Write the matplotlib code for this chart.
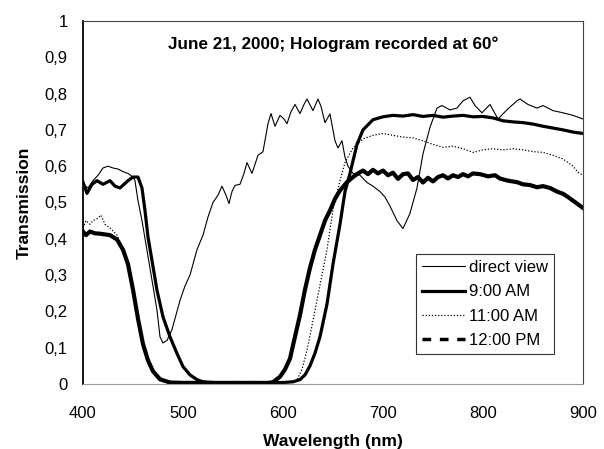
import numpy as np
import matplotlib
matplotlib.use("Agg")
import matplotlib.pyplot as plt
from matplotlib.lines import Line2D

plt.rcParams['font.family'] = ['Liberation Sans', 'DejaVu Sans']

# direct view (thin line)
wl_direct = [400, 405, 410, 415, 420, 425, 430, 435, 440, 445, 450, 452, 455, 459, 464, 469, 474, 477,
             480, 484, 489, 493, 497, 502, 507, 514, 520, 525, 530, 535, 539, 543, 546, 549, 552, 557,
             561, 564, 569, 575, 580, 585, 588, 592, 597, 601, 604, 608, 612, 617, 621, 624, 630, 635,
             638, 642, 647, 652, 655, 659, 662, 665, 670, 677, 684, 690, 697, 702, 707, 714, 720, 727,
             734, 740, 747, 754, 759, 767, 774, 780, 787, 792, 799, 807, 815, 825, 834, 837, 845, 854,
             860, 870, 880, 890, 900]
t_direct = [0.55, 0.54, 0.56, 0.575, 0.595, 0.60, 0.595, 0.592, 0.585, 0.58, 0.57, 0.56, 0.505, 0.45,
            0.368, 0.286, 0.203, 0.13, 0.113, 0.12, 0.15, 0.19, 0.23, 0.27, 0.30, 0.37, 0.41, 0.46, 0.50,
            0.52, 0.545, 0.52, 0.497, 0.53, 0.547, 0.55, 0.58, 0.61, 0.58, 0.63, 0.64, 0.717, 0.745, 0.71,
            0.74, 0.73, 0.717, 0.75, 0.77, 0.745, 0.77, 0.785, 0.753, 0.785, 0.765, 0.72, 0.744, 0.67,
            0.65, 0.67, 0.625, 0.60, 0.58, 0.575, 0.555, 0.545, 0.53, 0.515, 0.49, 0.45, 0.428, 0.47,
            0.54, 0.634, 0.707, 0.76, 0.767, 0.755, 0.76, 0.78, 0.79, 0.767, 0.747, 0.77, 0.73, 0.758,
            0.78, 0.785, 0.77, 0.76, 0.767, 0.753, 0.747, 0.74, 0.73]

# 9:00 AM (thick solid)
wl_9am = [400, 404, 409, 414, 420, 427, 432, 437, 441, 445, 450, 455, 459, 462, 465, 469, 474, 480, 487,
          494, 500, 507, 514, 520, 530, 540, 550, 560, 570, 580, 590, 600, 610, 617, 622, 627, 632, 637,
          644, 650, 657, 662, 667, 674, 680, 690, 700, 710, 720, 730, 740, 750, 760, 770, 780, 790, 800,
          810, 820, 830, 840, 850, 860, 870, 880, 890, 900]
t_9am = [0.556, 0.525, 0.55, 0.56, 0.55, 0.56, 0.545, 0.54, 0.55, 0.56, 0.57, 0.57, 0.54, 0.478, 0.405,
         0.34, 0.258, 0.185, 0.13, 0.084, 0.048, 0.025, 0.012, 0.006, 0.004, 0.003, 0.004, 0.003, 0.004,
         0.003, 0.004, 0.004, 0.006, 0.012, 0.025, 0.05, 0.085, 0.13, 0.22, 0.33, 0.44, 0.53, 0.58, 0.66,
         0.70, 0.728, 0.736, 0.74, 0.738, 0.742, 0.737, 0.74, 0.735, 0.738, 0.74, 0.736, 0.737, 0.733,
         0.725, 0.722, 0.72, 0.716, 0.71, 0.705, 0.70, 0.694, 0.69]

# 11:00 AM (dotted)
wl_11am = [400, 403, 407, 410, 414, 418, 422, 427, 434, 440, 445, 450, 455, 460, 465, 470, 477, 487, 500,
           550, 605, 610, 614, 619, 624, 629, 634, 639, 644, 650, 657, 662, 670, 680, 690, 700, 710, 720,
           730, 740, 750, 760, 770, 780, 790, 800, 810, 820, 830, 840, 850, 860, 870, 880, 890, 895, 900]
t_11am = [0.43, 0.45, 0.44, 0.45, 0.455, 0.465, 0.44, 0.43, 0.41, 0.375, 0.33, 0.27, 0.19, 0.12, 0.07,
          0.04, 0.015, 0.005, 0.004, 0.004, 0.004, 0.006, 0.012, 0.04, 0.093, 0.16, 0.23, 0.30, 0.37,
          0.48, 0.56, 0.61, 0.65, 0.675, 0.685, 0.69, 0.685, 0.68, 0.678, 0.67, 0.66, 0.652, 0.655, 0.648,
          0.638, 0.645, 0.648, 0.645, 0.648, 0.645, 0.64, 0.638, 0.63, 0.62, 0.60, 0.583, 0.575]

# 12:00 PM (thick dashed)
wl_12pm = [400, 403, 407, 412, 417, 422, 427, 434, 440, 445, 450, 455, 460, 465, 470, 477, 487, 500, 550,
           585, 590, 597, 602, 607, 612, 617, 622, 627, 632, 637, 642, 647, 652, 657, 664, 670, 675, 680,
           685, 690, 695, 700, 705, 710, 715, 720, 725, 730, 735, 740, 745, 750, 755, 760, 765, 770, 775,
           780, 785, 790, 797, 805, 812, 817, 825, 834, 840, 847, 854, 860, 867, 874, 880, 885, 890, 895,
           900]
t_12pm = [0.42, 0.41, 0.42, 0.415, 0.414, 0.412, 0.41, 0.398, 0.37, 0.33, 0.26, 0.18, 0.11, 0.065, 0.035,
          0.013, 0.004, 0.003, 0.003, 0.003, 0.005, 0.02, 0.04, 0.07, 0.13, 0.19, 0.26, 0.32, 0.37, 0.41,
          0.45, 0.478, 0.51, 0.533, 0.556, 0.57, 0.58, 0.588, 0.578, 0.59, 0.58, 0.588, 0.575, 0.582,
          0.565, 0.578, 0.58, 0.562, 0.57, 0.555, 0.568, 0.558, 0.57, 0.575, 0.566, 0.575, 0.57, 0.578,
          0.572, 0.58, 0.578, 0.572, 0.575, 0.566, 0.56, 0.556, 0.55, 0.548, 0.542, 0.545, 0.54, 0.53,
          0.524, 0.515, 0.505, 0.495, 0.485]

x_ticks = [400, 500, 600, 700, 800, 900]
y_ticks = [0, 0.1, 0.2, 0.3, 0.4, 0.5, 0.6, 0.7, 0.8, 0.9, 1]
y_labels = ['0', '0,1', '0,2', '0,3', '0,4', '0,5', '0,6', '0,7', '0,8', '0,9', '1']

fig = plt.figure(figsize=(6.04, 4.49), dpi=100)
ax = fig.add_axes([0.1374, 0.1448, 0.8278, 0.8085])

ax.plot(wl_direct, t_direct, color='black', lw=0.8)
ax.plot(wl_9am, t_9am, color='black', lw=2.3)
ax.plot(wl_11am, t_11am, color='black', lw=0.9, linestyle=(0, (1, 1.5)))
ax.plot(wl_12pm, t_12pm, color='black', lw=3.0)

ax.set_xlim(400, 900)
ax.set_ylim(0, 1)
ax.set_xticks(x_ticks)
ax.set_yticks(y_ticks)
ax.set_yticklabels(y_labels)
ax.tick_params(length=0, labelsize=12)
ax.tick_params(axis='x', pad=16)
ax.tick_params(axis='y', pad=11)

ax.spines['left'].set_color('black')
ax.spines['left'].set_linewidth(1.3)
ax.spines['bottom'].set_color('#999999')
ax.spines['top'].set_color('#444444')
ax.spines['right'].set_color('#444444')
for s in ['bottom', 'top', 'right']:
    ax.spines[s].set_linewidth(0.8)

ax.set_xlabel('Wavelength (nm)', fontsize=12.5, fontweight='bold', labelpad=9)
ax.set_ylabel('Transmission', fontsize=12.5, fontweight='bold', labelpad=9)
ax.text(0.5, 0.937, 'June 21, 2000; Hologram recorded at 60°', transform=ax.transAxes,
        ha='center', va='center', fontsize=12.3, fontweight='bold')

handles = [Line2D([], [], color='black', lw=0.8),
           Line2D([], [], color='black', lw=2.3),
           Line2D([], [], color='black', lw=0.9, linestyle=(0, (1, 1.5))),
           Line2D([], [], color='black', lw=2.5, linestyle=(0, (2.5, 2.5)))]
labels = ['direct view', '9:00 AM', '11:00 AM', '12:00 PM']
leg = ax.legend(handles, labels, loc='upper left', bbox_to_anchor=(0.666, 0.357), borderaxespad=0,
                fontsize=12, handlelength=2.6, handletextpad=0.25, labelspacing=0.55,
                fancybox=False, frameon=True, borderpad=0.35)
leg.get_frame().set_edgecolor('black')
leg.get_frame().set_linewidth(0.8)

fig.savefig('out.png', dpi=100)
